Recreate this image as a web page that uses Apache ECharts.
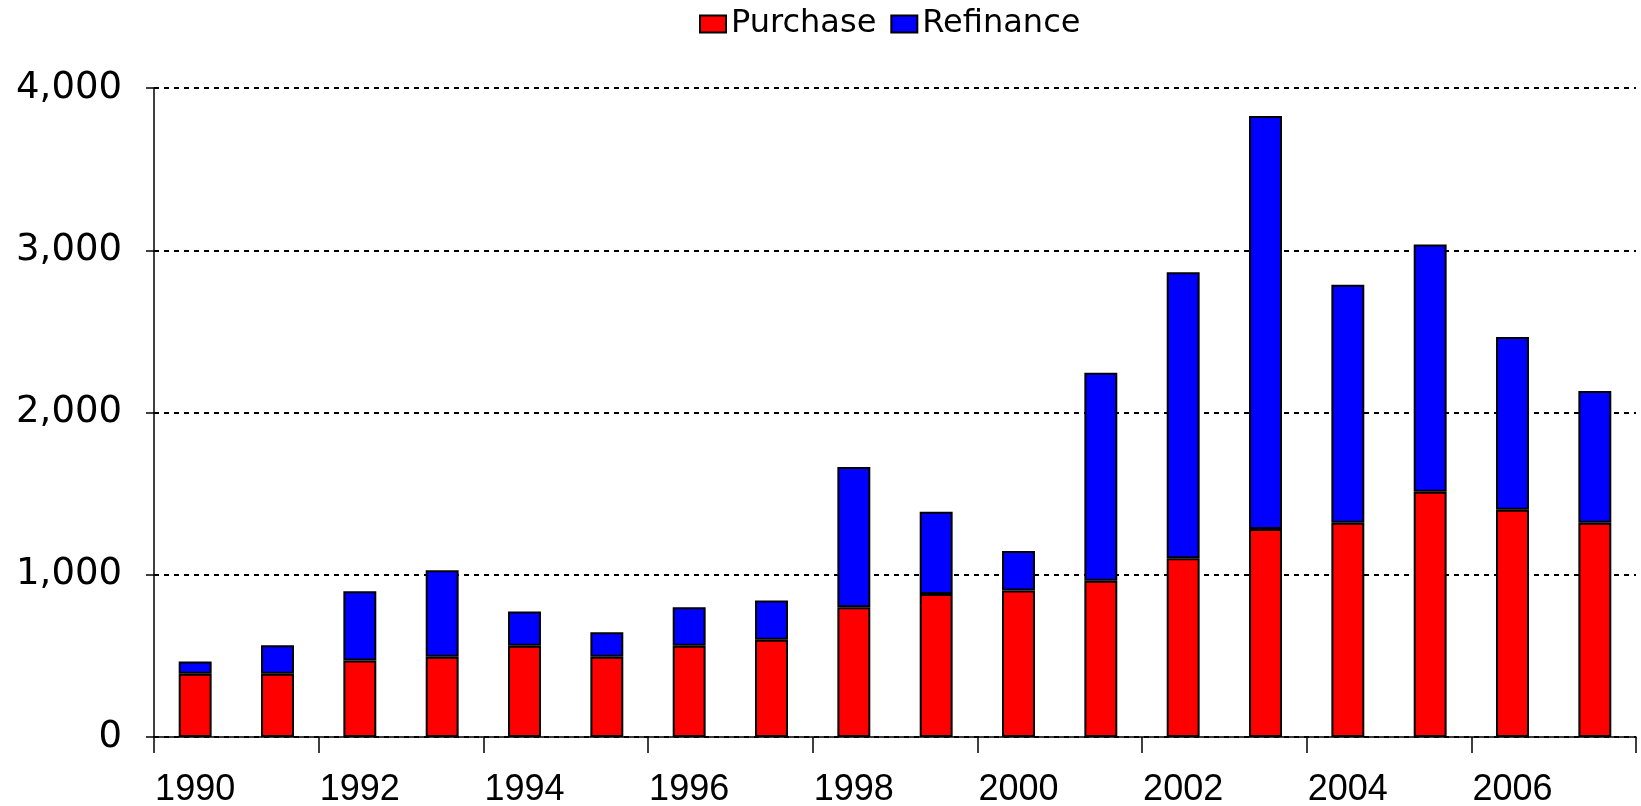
<!DOCTYPE html>
<html>
<head>
<meta charset="utf-8">
<title>Purchase and Refinance</title>
<script src="https://cdn.jsdelivr.net/npm/echarts@6/dist/echarts.min.js"></script>
<style>
  html, body { margin: 0; padding: 0; background: #fff; }
  #chart { width: 1641px; height: 806px; }
</style>
</head>
<body>
<div id="chart"></div>
<script>
// years on the x axis
const years = ['1990', '1991', '1992', '1993', '1994', '1995', '1996', '1997', '1998',
  '1999', '2000', '2001', '2002', '2003', '2004', '2005', '2006', '2007']

// stacked values
const purchase = [390, 390, 471, 495, 562, 495, 562, 600, 800,
  882, 903, 963, 1102, 1282, 1321, 1511, 1400, 1321]
const refinance = [75, 176, 427, 532, 211, 151, 237, 242, 864,
  506, 243, 1282, 1763, 2546, 1466, 1524, 1066, 812]

const yTicks = [0, 1000, 2000, 3000, 4000]

const chart = echarts.init(document.getElementById('chart'))

const barStyle = (color) => ({
  color: color,
  borderColor: '#000',
  borderWidth: 2
})

chart.setOption({
  animation: false,
  legend: {
    left: 694,
    top: 3,
    icon: 'rect',
    itemWidth: 26,
    itemHeight: 17,
    itemGap: 14,
    textStyle: {
      fontFamily: 'DejaVu Sans',
      fontSize: 32,
      color: '#000'
    },
    data: ['Purchase', 'Refinance']
  },
  grid: {
    left: 154,
    right: 5,
    top: 88,
    bottom: 69,
    containLabel: false,
    outerBoundsMode: 'none'
  },
  xAxis: {
    type: 'category',
    data: years,
    boundaryGap: true,
    axisLine: { lineStyle: { color: '#000', width: 1.5 } },
    axisTick: {
      show: true,
      interval: 1,
      length: 16,
      lineStyle: { color: '#000', width: 1.5 }
    },
    axisLabel: {
      interval: 1,
      margin: 35,
      color: '#000',
      fontFamily: 'Liberation Sans, Arial',
      fontSize: 36
    }
  },
  yAxis: {
    type: 'value',
    min: yTicks[0],
    max: yTicks[yTicks.length - 1],
    interval: 1000,
    axisLine: { show: true, lineStyle: { color: '#000', width: 1.5 } },
    axisTick: {
      show: true,
      length: 8,
      lineStyle: { color: '#000', width: 1.5 }
    },
    axisLabel: {
      margin: 32,
      color: '#000',
      fontFamily: 'DejaVu Sans',
      fontSize: 37,
      formatter: (v) => v.toLocaleString('en-US')
    },
    splitLine: {
      lineStyle: { color: '#000', width: 2, type: [5, 5] }
    }
  },
  series: [
    {
      name: 'Purchase',
      type: 'bar',
      stack: 'total',
      barWidth: '40%',
      itemStyle: barStyle('#ff0000'),
      data: purchase
    },
    {
      name: 'Refinance',
      type: 'bar',
      stack: 'total',
      barWidth: '40%',
      itemStyle: barStyle('#0000ff'),
      data: refinance
    }
  ]
})
</script>
</body>
</html>
